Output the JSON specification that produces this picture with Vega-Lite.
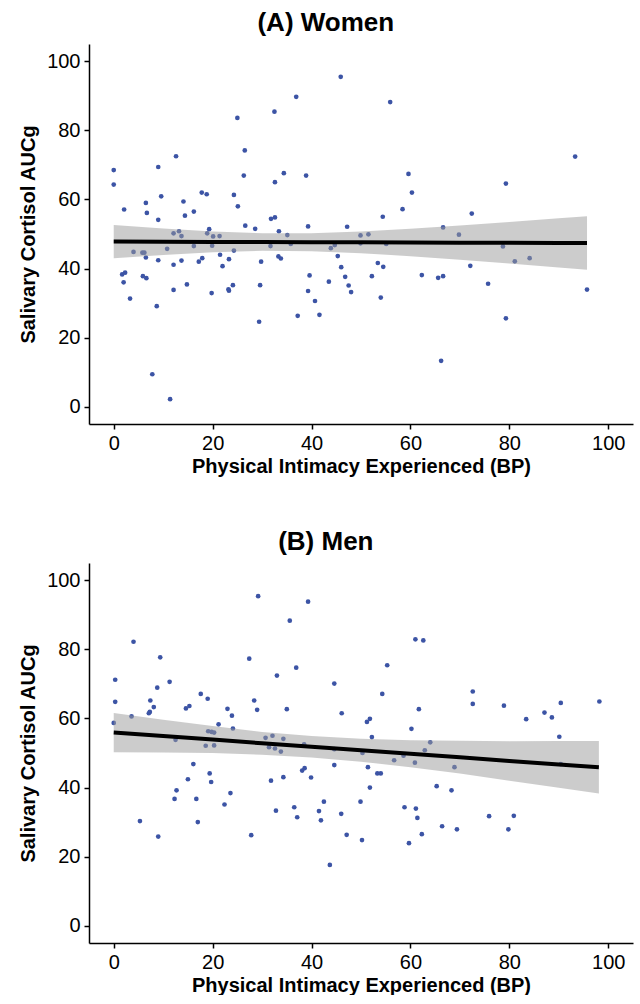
{
  "$schema": "https://vega.github.io/schema/vega-lite/v6.json",
  "padding": {"left": 18, "top": 10, "right": 7, "bottom": 0},
  "spacing": 53,
  "config": {
    "font": "Liberation Sans",
    "view": {"stroke": null},
    "axis": {"grid": false, "domainColor": "black", "domainWidth": 1.5, "tickColor": "black", "tickWidth": 1.5, "tickSize": 5, "labelFontSize": 20, "labelColor": "black", "labelPadding": 4, "labelFlush": false, "titleFontSize": 20, "titleFontWeight": "bold", "titleColor": "black"},
    "title": {"fontSize": 26, "fontWeight": "bold", "color": "black", "anchor": "middle", "frame": "bounds", "offset": 8}
  },
  "datasets": {
    "women": [
      {"x":0,"y":68.5},{"x":0,"y":64.3},{"x":2.1,"y":57.1},{"x":6.5,"y":59.0},{"x":6.7,"y":56.1},{"x":9.0,"y":69.4},{"x":9.0,"y":54.1},{"x":9.6,"y":60.9},{"x":12.6,"y":72.5},{"x":14.1,"y":59.4},{"x":14.4,"y":55.3},{"x":16.2,"y":56.5},{"x":17.8,"y":62.0},{"x":18.8,"y":61.5},{"x":24.3,"y":61.3},{"x":25.1,"y":58.0},{"x":25.0,"y":83.6},{"x":26.5,"y":74.2},{"x":26.3,"y":66.9},{"x":26.6,"y":52.4},{"x":28.6,"y":51.5},{"x":31.8,"y":54.4},{"x":32.6,"y":54.8},{"x":32.5,"y":85.4},{"x":32.6,"y":65.0},{"x":33.4,"y":50.8},{"x":34.4,"y":67.6},{"x":35.1,"y":49.7},{"x":36.9,"y":89.7},{"x":38.9,"y":66.9},{"x":39.3,"y":52.2},{"x":45.9,"y":95.5},{"x":47.2,"y":52.1},{"x":49.9,"y":49.6},{"x":12.1,"y":50.2},{"x":13.2,"y":50.8},{"x":13.7,"y":49.4},{"x":19.3,"y":51.4},{"x":18.9,"y":50.2},{"x":20.1,"y":49.3},{"x":21.4,"y":49.4},
      {"x":55.9,"y":88.2},{"x":93.3,"y":72.4},{"x":59.6,"y":67.4},{"x":60.3,"y":62.0},{"x":79.3,"y":64.6},{"x":58.4,"y":57.2},{"x":54.4,"y":55.0},{"x":72.4,"y":55.9},{"x":66.6,"y":51.9},{"x":51.5,"y":49.9},{"x":69.8,"y":49.8},
      {"x":4.0,"y":44.8},{"x":5.8,"y":44.6},{"x":6.2,"y":44.6},{"x":6.5,"y":43.2},{"x":10.8,"y":45.7},{"x":9.0,"y":42.4},{"x":12.1,"y":41.1},{"x":13.7,"y":42.3},{"x":16.2,"y":46.5},{"x":17.2,"y":42.0},{"x":17.9,"y":43.0},{"x":19.9,"y":46.6},{"x":21.5,"y":44.0},{"x":22.0,"y":40.7},{"x":23.3,"y":42.7},{"x":24.3,"y":45.2},{"x":29.8,"y":42.0},{"x":31.7,"y":46.5},{"x":33.3,"y":43.5},{"x":33.8,"y":42.9},{"x":35.8,"y":47.1},{"x":43.9,"y":45.9},{"x":44.7,"y":46.8},{"x":45.3,"y":43.6},{"x":46.0,"y":40.4},{"x":46.8,"y":37.6},{"x":47.5,"y":35.1},{"x":48.0,"y":33.2},{"x":1.7,"y":38.3},{"x":2.3,"y":38.8},{"x":2.0,"y":36.0},{"x":3.3,"y":31.3},{"x":5.9,"y":37.8},{"x":6.6,"y":37.2},{"x":8.7,"y":29.1},{"x":7.8,"y":9.4},{"x":11.4,"y":2.2},{"x":12.1,"y":33.8},{"x":14.8,"y":35.4},{"x":19.8,"y":32.9},{"x":23.2,"y":34.0},{"x":23.3,"y":33.6},{"x":24.1,"y":35.2},{"x":29.6,"y":35.2},{"x":29.4,"y":24.6},{"x":39.6,"y":38.0},{"x":39.3,"y":33.5},{"x":40.7,"y":30.6},{"x":41.6,"y":26.6},{"x":37.2,"y":26.3},{"x":43.5,"y":36.2},
      {"x":49.9,"y":47.3},{"x":55.1,"y":47.1},{"x":53.4,"y":41.6},{"x":54.5,"y":40.5},{"x":52.2,"y":37.8},{"x":54.0,"y":31.6},{"x":62.3,"y":38.1},{"x":65.6,"y":37.3},{"x":66.6,"y":37.8},{"x":66.2,"y":13.3},{"x":72.1,"y":40.8},{"x":75.7,"y":35.6},{"x":78.7,"y":46.4},{"x":79.3,"y":25.6},{"x":81.1,"y":42.1},{"x":84.1,"y":43.0},{"x":95.7,"y":33.9}
    ],
    "women_fit": [
      {"x":0,"fit":47.8,"lo":43.0,"hi":52.6},{"x":10,"fit":47.76,"lo":43.93,"hi":51.59},{"x":20,"fit":47.72,"lo":44.69,"hi":50.75},{"x":30,"fit":47.67,"lo":45.12,"hi":50.22},{"x":40,"fit":47.63,"lo":45.04,"hi":50.22},{"x":50,"fit":47.59,"lo":44.46,"hi":50.72},{"x":60,"fit":47.55,"lo":43.59,"hi":51.51},{"x":70,"fit":47.5,"lo":42.56,"hi":52.44},{"x":80,"fit":47.46,"lo":41.46,"hi":53.46},{"x":90,"fit":47.42,"lo":40.31,"hi":54.53},{"x":95.7,"fit":47.4,"lo":39.65,"hi":55.15}
    ],
    "men": [
      {"x":29.2,"y":95.4},{"x":39.3,"y":93.8},{"x":35.6,"y":88.3},{"x":4.0,"y":82.2},{"x":9.4,"y":77.7},{"x":27.4,"y":77.3},{"x":36.9,"y":74.7},{"x":33.0,"y":72.4},{"x":0.3,"y":71.2},{"x":11.3,"y":70.6},{"x":44.6,"y":70.1},{"x":8.8,"y":68.9},{"x":17.6,"y":67.1},{"x":19.0,"y":65.7},{"x":0.3,"y":64.8},{"x":7.4,"y":65.2},{"x":8.1,"y":63.3},{"x":28.4,"y":65.2},{"x":7.1,"y":61.5},{"x":7.3,"y":61.9},{"x":14.6,"y":62.9},{"x":15.3,"y":63.6},{"x":23.0,"y":62.8},{"x":23.9,"y":60.8},{"x":29.0,"y":62.5},{"x":35.0,"y":62.7},{"x":46.1,"y":61.5},{"x":0,"y":58.7},{"x":3.6,"y":60.6},{"x":21.2,"y":58.3},{"x":24.1,"y":57.1},{"x":19.1,"y":56.3},{"x":19.8,"y":56.1},{"x":20.3,"y":55.9},{"x":12.5,"y":53.8},{"x":18.6,"y":52.1},{"x":20.3,"y":52.2},{"x":30.7,"y":54.4},{"x":32.1,"y":55.0},{"x":34.3,"y":54.1},{"x":31.4,"y":51.7},{"x":32.6,"y":51.3},{"x":33.8,"y":50.4},{"x":38.5,"y":52.5},{"x":44.6,"y":51.1},{"x":50.3,"y":50.0},
      {"x":61.0,"y":82.9},{"x":62.6,"y":82.6},{"x":55.3,"y":75.4},{"x":54.3,"y":67.1},{"x":72.6,"y":67.8},{"x":72.6,"y":64.2},{"x":78.9,"y":63.7},{"x":98.2,"y":64.9},{"x":90.4,"y":64.5},{"x":87.1,"y":61.7},{"x":88.6,"y":60.3},{"x":83.4,"y":59.8},{"x":61.7,"y":62.7},{"x":51.2,"y":59.0},{"x":51.8,"y":59.9},{"x":60.2,"y":57.0},{"x":52.2,"y":54.6},{"x":90.1,"y":54.7},{"x":64.0,"y":53.1},{"x":62.9,"y":50.8},{"x":58.6,"y":49.2},
      {"x":16.1,"y":46.8},{"x":15.0,"y":42.4},{"x":19.4,"y":44.1},{"x":19.7,"y":41.6},{"x":12.7,"y":39.2},{"x":12.3,"y":36.7},{"x":16.7,"y":36.7},{"x":17.0,"y":30.0},{"x":22.4,"y":35.1},{"x":23.6,"y":38.4},{"x":5.3,"y":30.3},{"x":9.0,"y":25.8},{"x":27.8,"y":26.2},{"x":31.8,"y":42.0},{"x":34.3,"y":43.0},{"x":32.8,"y":33.3},{"x":36.5,"y":34.3},{"x":37.1,"y":31.4},{"x":38.1,"y":44.9},{"x":38.6,"y":45.6},{"x":39.9,"y":42.9},{"x":44.6,"y":46.5},{"x":42.5,"y":35.9},{"x":41.5,"y":33.2},{"x":41.9,"y":30.5},{"x":46.0,"y":32.4},{"x":47.1,"y":26.3},{"x":43.7,"y":17.6},{"x":49.9,"y":35.9},{"x":50.2,"y":24.8},
      {"x":56.7,"y":47.9},{"x":60.9,"y":47.2},{"x":68.9,"y":45.9},{"x":51.4,"y":45.9},{"x":53.3,"y":44.1},{"x":54.0,"y":44.1},{"x":51.8,"y":40.0},{"x":65.3,"y":40.4},{"x":68.3,"y":39.2},{"x":58.8,"y":34.3},{"x":61.1,"y":33.9},{"x":61.4,"y":31.2},{"x":66.4,"y":28.8},{"x":62.3,"y":26.5},{"x":59.7,"y":23.9},{"x":69.4,"y":27.9},{"x":75.9,"y":31.7},{"x":80.9,"y":31.8},{"x":79.8,"y":27.9},{"x":90.4,"y":46.8}
    ],
    "men_fit": [
      {"x":0,"fit":55.9,"lo":50.2,"hi":61.6},{"x":10,"fit":54.9,"lo":50.16,"hi":59.64},{"x":20,"fit":53.9,"lo":49.99,"hi":57.81},{"x":30,"fit":52.8,"lo":49.49,"hi":56.11},{"x":40,"fit":51.8,"lo":48.71,"hi":54.89},{"x":50,"fit":50.8,"lo":47.49,"hi":54.11},{"x":60,"fit":49.8,"lo":45.89,"hi":53.71},{"x":70,"fit":48.8,"lo":44.06,"hi":53.54},{"x":80,"fit":47.7,"lo":42.0,"hi":53.4},{"x":90,"fit":46.7,"lo":39.96,"hi":53.44},{"x":98.1,"fit":45.9,"lo":38.29,"hi":53.51}
    ]
  },
  "vconcat": [
    {
      "width": 544, "height": 380,
      "title": "(A) Women",
      "layer": [
        {"data": {"name": "women"}, "mark": {"type": "circle", "size": 22, "color": "#3C54A5", "opacity": 1},
         "encoding": {
           "x": {"field": "x", "type": "quantitative", "scale": {"domain": [-5, 105], "nice": false, "zero": false}, "axis": {"values": [0,20,40,60,80,100], "title": "Physical Intimacy Experienced (BP)", "titlePadding": 3}},
           "y": {"field": "y", "type": "quantitative", "scale": {"domain": [-5, 105], "nice": false, "zero": false}, "axis": {"values": [0,20,40,60,80,100], "title": "Salivary Cortisol AUCg", "titlePadding": 8}}
         }},
        {"data": {"name": "women_fit"}, "mark": {"type": "area", "color": "#999999", "opacity": 0.5},
         "encoding": {"x": {"field": "x", "type": "quantitative"}, "y": {"field": "lo", "type": "quantitative"}, "y2": {"field": "hi"}}},
        {"data": {"name": "women_fit"}, "mark": {"type": "line", "color": "black", "strokeWidth": 4},
         "encoding": {"x": {"field": "x", "type": "quantitative"}, "y": {"field": "fit", "type": "quantitative"}}}
      ]
    },
    {
      "width": 544, "height": 380,
      "title": "(B) Men",
      "layer": [
        {"data": {"name": "men"}, "mark": {"type": "circle", "size": 22, "color": "#3C54A5", "opacity": 1},
         "encoding": {
           "x": {"field": "x", "type": "quantitative", "scale": {"domain": [-5, 105], "nice": false, "zero": false}, "axis": {"values": [0,20,40,60,80,100], "title": "Physical Intimacy Experienced (BP)", "titlePadding": 3}},
           "y": {"field": "y", "type": "quantitative", "scale": {"domain": [-5, 105], "nice": false, "zero": false}, "axis": {"values": [0,20,40,60,80,100], "title": "Salivary Cortisol AUCg", "titlePadding": 8}}
         }},
        {"data": {"name": "men_fit"}, "mark": {"type": "area", "color": "#999999", "opacity": 0.5},
         "encoding": {"x": {"field": "x", "type": "quantitative"}, "y": {"field": "lo", "type": "quantitative"}, "y2": {"field": "hi"}}},
        {"data": {"name": "men_fit"}, "mark": {"type": "line", "color": "black", "strokeWidth": 4},
         "encoding": {"x": {"field": "x", "type": "quantitative"}, "y": {"field": "fit", "type": "quantitative"}}}
      ]
    }
  ]
}
